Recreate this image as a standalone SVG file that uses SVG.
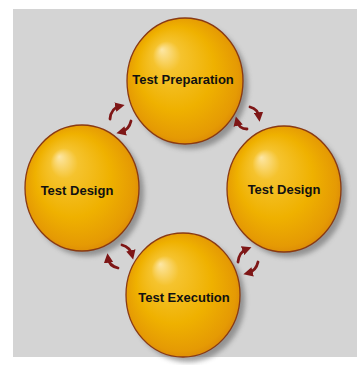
<svg xmlns="http://www.w3.org/2000/svg" width="357" height="365" viewBox="0 0 357 365">
  <style>
    .label { font-family: "Liberation Sans", Arial, sans-serif; font-weight: bold; font-size: 13px; fill: #111; text-anchor: middle; dominant-baseline: central; }
    .ball { fill: url(#ballFill); stroke: #8a3a12; stroke-width: 1.3; }
    .shadow { fill: #666666; opacity: 0.6; filter: url(#soft); }
    .arc { fill: none; stroke: #7e1616; stroke-width: 2.8; stroke-linecap: round; marker-end: url(#head); }
  </style>
  <defs>
    <radialGradient id="ballFill" cx="0.5" cy="0.5" r="0.55" fx="0.3" fy="0.25">
      <stop offset="0" stop-color="#fde7a6"/>
      <stop offset="0.22" stop-color="#f5c32e"/>
      <stop offset="0.6" stop-color="#efb100"/>
      <stop offset="0.88" stop-color="#e59a04"/>
      <stop offset="1" stop-color="#d7820a"/>
    </radialGradient>
    <filter id="soft" x="-20%" y="-20%" width="140%" height="140%">
      <feGaussianBlur stdDeviation="2.5"/>
    </filter>
    <marker id="head" viewBox="0 0 10 10" refX="5" refY="5" markerWidth="3.4" markerHeight="3.4" orient="auto" markerUnits="strokeWidth">
      <path d="M0,0 L10,5 L0,10 Z" fill="#7e1616"/>
    </marker>
  </defs>

  <rect x="0" y="0" width="357" height="365" fill="#ffffff"/>
  <rect x="13" y="9" width="344" height="348" fill="#d4d4d4"/>

  <!-- drop shadows under the spheres -->
  <g id="shadows">
    <ellipse class="shadow" cx="190" cy="86" rx="58" ry="63"/>
    <ellipse class="shadow" cx="87" cy="193" rx="57" ry="63"/>
    <ellipse class="shadow" cx="289" cy="194" rx="57" ry="63"/>
    <ellipse class="shadow" cx="188" cy="300" rx="57" ry="62"/>
  </g>

  <g id="node-preparation">
    <ellipse class="ball" cx="185" cy="81" rx="58" ry="63"/>
    <text class="label" x="183" y="79">Test Preparation</text>
  </g>
  <g id="node-design-left">
    <ellipse class="ball" cx="82" cy="188" rx="57" ry="63"/>
    <text class="label" x="77" y="190">Test Design</text>
  </g>
  <g id="node-design-right">
    <ellipse class="ball" cx="284" cy="189" rx="57" ry="63"/>
    <text class="label" x="284" y="189">Test Design</text>
  </g>
  <g id="node-execution">
    <ellipse class="ball" cx="183" cy="295" rx="57" ry="62"/>
    <text class="label" x="184" y="297">Test Execution</text>
  </g>

  <!-- curved arrow pairs in the gaps between the spheres -->
  <g id="connectors">
    <path class="arc" d="M110,119 Q111,108 120,106"/>
    <path class="arc" d="M131,121 Q129,130 121,132"/>
    <path class="arc" d="M250,107 Q258,109 259,117"/>
    <path class="arc" d="M247,129 Q239,129 237,121"/>
    <path class="arc" d="M122,245 Q130,247 132,255"/>
    <path class="arc" d="M118,268 Q109,266 108,258"/>
    <path class="arc" d="M238,262 Q239,252 247,249"/>
    <path class="arc" d="M258,262 Q256,271 248,273"/>
  </g>
</svg>
